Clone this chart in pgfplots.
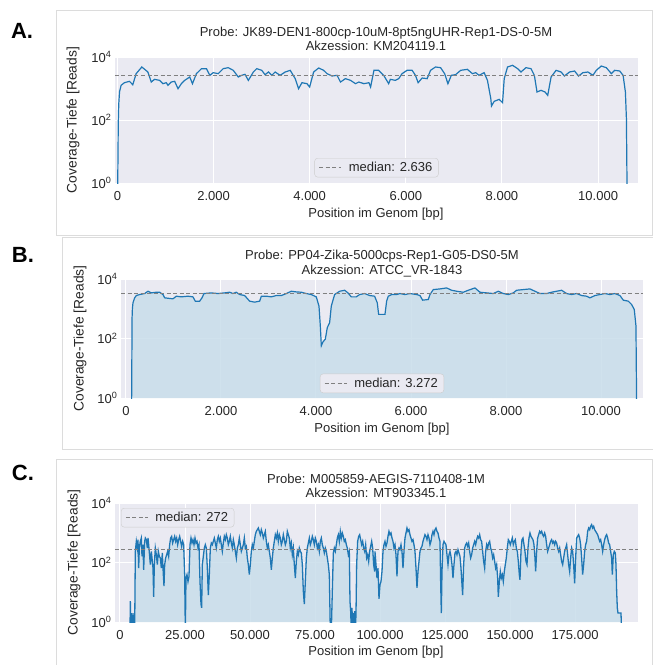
\documentclass[border=0pt]{standalone}
\usepackage{pgfplots}
\pgfplotsset{compat=1.18}
\usepackage{pgfplotstable}
\usepackage{fontspec}
\setmainfont{Liberation Sans}
\definecolor{sbbg}{HTML}{EAEAF2}
\definecolor{cz}{HTML}{1F77B4}
\definecolor{fillc}{HTML}{C8DEEA}
\definecolor{txt}{HTML}{262626}
\definecolor{frm}{HTML}{DCDCDC}
\definecolor{legedge}{HTML}{CCCCCC}
\newcommand\fs{\fontsize{13}{14.5}\selectfont}

\pgfplotstableread[row sep=\\]{
x y\\
118 0.5\\ 124 30\\ 128 500\\ 135 1000\\ 147 1585\\ 182 2327\\ 217 2782\\ 288 3005\\ 393 3245\\ 463 3882\\
533 3415\\ 638 3594\\ 709 3594\\ 779 3005\\ 814 2327\\ 989 2154\\ 1060 2644\\ 1165 2512\\ 1305 2644\\ 1410 2512\\
1459 1801\\ 1551 1801\\ 1600 2327\\ 1642 3245\\ 1796 3415\\ 1937 3245\\ 2077 3415\\ 2182 3594\\ 2252 3245\\ 2322 3594\\
2393 3005\\ 2498 2782\\ 2603 1801\\ 2709 1668\\ 2814 1801\\ 2849 2644\\ 2954 2644\\ 3059 2512\\ 3164 2782\\ 3270 2782\\
3375 3245\\ 3480 3882\\ 3585 3687\\ 3691 3594\\ 3796 3245\\ 3901 3005\\ 4006 2512\\ 4063 1228\\ 4091 264\\ 4112 57\\
4147 77\\ 4196 95\\ 4238 233\\ 4287 341\\ 4322 1228\\ 4392 3005\\ 4498 3882\\ 4603 4191\\ 4673 3415\\ 4743 2512\\
4848 2512\\ 4919 3005\\ 5024 3245\\ 5129 2782\\ 5234 2644\\ 5290 1585\\ 5319 647\\ 5410 647\\ 5452 647\\ 5487 1801\\
5522 2644\\ 5592 3005\\ 5698 3005\\ 5768 3245\\ 5873 3005\\ 5978 3245\\ 6119 3005\\ 6189 2782\\ 6245 1945\\ 6364 2047\\
6399 3005\\ 6469 4407\\ 6610 4642\\ 6750 5012\\ 6855 4191\\ 6961 3882\\ 7101 3594\\ 7206 4191\\ 7346 5012\\ 7452 3594\\
7592 3415\\ 7732 3245\\ 7838 3882\\ 7943 3245\\ 8048 3005\\ 8153 3415\\ 8224 4191\\ 8364 4407\\ 8504 4642\\ 8609 3882\\
8715 3245\\ 8855 3245\\ 8960 3594\\ 9066 3882\\ 9171 4191\\ 9276 3245\\ 9381 3005\\ 9487 3245\\ 9592 2782\\ 9697 2644\\
9767 2327\\ 9872 2782\\ 9978 3005\\ 10083 3245\\ 10188 3005\\ 10293 3245\\ 10399 2782\\ 10469 1945\\ 10574 1801\\ 10644 1394\\
10700 950\\ 10736 264\\ 10750 0.5\\
}\dataB

\pgfplotstableread[row sep=\\]{
x y\\
3846 0.5\\ 3974 5\\ 4230 0.5\\ 4615 2\\ 5000 0.5\\ 5384 2\\ 5641 0.5\\ 5897 237\\ 6282 515\\ 6666 307\\
6923 586\\ 7179 65\\ 7435 307\\ 7820 515\\ 8205 666\\ 8461 161\\ 8846 398\\ 9102 57\\ 9487 515\\ 9743 666\\
10128 586\\ 10512 307\\ 10769 666\\ 11025 398\\ 11410 161\\ 11666 85\\ 12051 237\\ 12307 142\\ 12692 65\\ 12948 7\\
13204 85\\ 13589 307\\ 13974 183\\ 14358 85\\ 14743 237\\ 15127 161\\ 15512 142\\ 15897 65\\ 16281 209\\ 16666 39\\
16922 16\\ 17179 85\\ 17563 142\\ 17948 183\\ 18332 237\\ 18717 161\\ 19102 398\\ 19486 666\\ 19871 758\\ 20255 452\\
20640 586\\ 21025 758\\ 21409 515\\ 21794 666\\ 22178 398\\ 22563 586\\ 22948 758\\ 23332 515\\ 23717 350\\ 24101 515\\
24486 398\\ 24871 39\\ 25127 0.5\\ 25383 30\\ 25768 39\\ 26153 23\\ 26537 34\\ 26922 398\\ 27306 666\\ 27691 452\\
28076 586\\ 28460 398\\ 28845 666\\ 29229 452\\ 29614 515\\ 29999 307\\ 30383 398\\ 30768 23\\ 31152 4\\ 31409 3\\
31665 85\\ 32050 161\\ 32434 307\\ 32819 398\\ 33204 307\\ 33588 65\\ 33973 8\\ 34357 39\\ 34742 307\\ 35127 452\\
35511 398\\ 35896 515\\ 36280 666\\ 36665 452\\ 37050 307\\ 37434 586\\ 37819 758\\ 38203 515\\ 38588 666\\ 38973 398\\
39357 237\\ 39742 452\\ 40126 758\\ 40511 586\\ 40896 862\\ 41280 666\\ 41665 398\\ 42049 515\\ 42434 758\\ 42819 452\\
43203 307\\ 43588 586\\ 43972 398\\ 44357 237\\ 44742 142\\ 45126 307\\ 45511 398\\ 45895 666\\ 46280 398\\ 46665 237\\
47049 307\\ 47434 398\\ 47818 666\\ 48203 307\\ 48588 350\\ 48972 142\\ 49357 85\\ 49741 39\\ 50126 85\\ 50511 237\\
50895 398\\ 51280 307\\ 51664 515\\ 52049 862\\ 52434 1116\\ 52818 1270\\ 53203 1444\\ 53587 1116\\ 53972 862\\ 54357 1270\\
54741 981\\ 55126 666\\ 55510 862\\ 55895 1116\\ 56280 515\\ 56664 307\\ 57049 398\\ 57433 237\\ 57818 142\\ 58203 57\\
58587 142\\ 58972 307\\ 59356 515\\ 59741 862\\ 60126 666\\ 60510 981\\ 60895 515\\ 61279 862\\ 61664 666\\ 62049 398\\
62433 515\\ 62818 862\\ 63202 586\\ 63587 398\\ 63972 515\\ 64356 1116\\ 64741 862\\ 65125 666\\ 65510 307\\ 65895 452\\
66279 183\\ 66664 307\\ 67048 85\\ 67433 30\\ 67818 109\\ 68202 237\\ 68587 183\\ 68971 307\\ 69356 237\\ 69741 209\\
70125 85\\ 70510 11\\ 70894 4\\ 71279 23\\ 71664 142\\ 72048 307\\ 72433 452\\ 72817 666\\ 73202 398\\ 73587 515\\
73971 758\\ 74356 586\\ 74740 398\\ 75125 666\\ 75510 515\\ 75894 307\\ 76279 398\\ 76663 237\\ 77048 515\\ 77433 666\\
77817 398\\ 78202 307\\ 78586 209\\ 78971 307\\ 79356 237\\ 79740 142\\ 80125 85\\ 80509 39\\ 80894 0.5\\ 81279 0.5\\
81663 11\\ 82048 209\\ 82432 307\\ 82817 237\\ 83202 398\\ 83586 666\\ 83971 862\\ 84355 515\\ 84740 1116\\ 85125 666\\
85509 981\\ 85894 758\\ 86278 515\\ 86663 586\\ 87048 398\\ 87432 307\\ 87817 183\\ 88201 237\\ 88458 5\\ 88714 2.3\\
88971 0.5\\ 89227 3\\ 89483 0.5\\ 89740 2\\ 89996 0.5\\ 90253 2.3\\ 90509 0.5\\ 90765 1.8\\ 91022 85\\ 91406 515\\
91791 758\\ 92176 862\\ 92560 586\\ 92945 398\\ 93329 515\\ 93714 307\\ 94099 237\\ 94483 398\\ 94868 142\\ 95252 183\\
95637 109\\ 96022 237\\ 96406 350\\ 96791 515\\ 97175 307\\ 97560 85\\ 97945 50\\
98073 237\\ 98458 85\\ 98842 30\\ 99227 65\\ 99611 6\\ 99996 18\\ 100381 23\\ 100765 50\\ 101150 237\\ 101534 398\\
101919 515\\ 102304 350\\ 102688 452\\ 103073 758\\ 103457 1116\\ 103842 862\\ 104227 981\\ 104611 666\\ 104996 515\\ 105380 307\\
105765 398\\ 106150 183\\ 106534 34\\ 106919 237\\ 107303 307\\ 107688 270\\ 108073 398\\ 108457 237\\ 108842 65\\ 109226 237\\
109611 666\\ 109996 981\\ 110380 1444\\ 110765 1116\\ 111149 1270\\ 111534 862\\ 111919 666\\ 112303 515\\ 112688 586\\ 113072 398\\
113457 237\\ 113842 65\\ 114226 14\\ 114611 50\\ 114995 109\\ 115380 237\\ 115765 307\\ 116149 350\\ 116534 515\\ 116918 666\\
117303 862\\ 117688 758\\ 118072 586\\ 118457 862\\ 118841 666\\ 119226 398\\ 119611 515\\ 119995 862\\ 120380 1116\\ 120764 862\\
121149 1270\\ 121534 1444\\ 121918 1116\\ 122303 981\\ 122687 666\\ 123072 515\\ 123328 23\\ 123585 2\\ 123841 50\\ 124226 398\\
124610 515\\ 124995 452\\ 125380 398\\ 125764 183\\ 126149 85\\ 126533 183\\ 126918 237\\ 127303 161\\ 127687 85\\ 128072 30\\
128456 85\\ 128841 209\\ 129226 237\\ 129610 183\\ 129995 270\\ 130379 209\\ 130764 161\\ 131149 65\\ 131533 18\\ 131790 8\\
132174 85\\ 132559 307\\ 132943 398\\ 133328 452\\ 133713 350\\ 134097 452\\ 134482 237\\ 134866 142\\ 135251 183\\ 135636 307\\
136020 398\\ 136405 515\\ 136789 398\\ 137174 586\\ 137559 758\\ 137943 666\\ 138328 862\\ 138712 586\\ 139097 515\\ 139482 237\\
139866 109\\ 140251 65\\ 140635 237\\ 141020 398\\ 141405 307\\ 141789 452\\ 142174 515\\ 142558 307\\ 142943 237\\ 143328 142\\
143712 183\\ 144097 109\\ 144481 65\\ 144866 85\\ 145251 30\\ 145507 7\\ 145892 23\\ 146276 50\\ 146661 30\\ 147045 39\\
147430 23\\ 147815 50\\ 148199 85\\ 148584 142\\ 148968 307\\ 149353 586\\ 149738 515\\ 150122 398\\ 150507 515\\ 150891 666\\
151276 398\\ 151661 515\\ 152045 586\\ 152430 307\\ 152814 237\\ 153199 109\\ 153584 39\\ 153840 26\\ 154225 237\\ 154609 586\\
154994 666\\ 155378 398\\ 155763 237\\ 156148 109\\ 156532 85\\ 156917 307\\ 157301 666\\ 157686 981\\ 158071 758\\ 158455 666\\
158840 586\\ 159224 398\\ 159609 142\\ 159865 50\\ 160250 237\\ 160635 666\\ 161019 862\\ 161404 1116\\ 161788 981\\ 162173 1116\\
162558 862\\ 162942 758\\ 163327 981\\ 163711 758\\ 164096 398\\ 164481 237\\ 164865 307\\ 165250 398\\ 165634 515\\ 166019 586\\
166404 452\\ 166788 515\\ 167173 398\\ 167557 515\\ 167942 452\\ 168327 307\\ 168711 237\\ 169096 307\\ 169480 183\\ 169865 109\\
170250 85\\ 170634 142\\ 171019 237\\ 171403 307\\ 171788 398\\ 172173 183\\ 172557 85\\ 172942 50\\ 173326 142\\ 173711 307\\
174096 237\\ 174480 85\\ 174865 20\\ 175249 142\\ 175634 666\\ 176019 758\\ 176403 862\\ 176788 666\\ 177172 398\\ 177557 142\\
177942 39\\ 178326 85\\ 178711 237\\ 179095 398\\ 179480 515\\ 179865 1116\\ 180249 1444\\ 180634 1270\\ 181018 1644\\ 181403 1870\\
181788 1444\\ 182172 1644\\ 182557 1270\\ 182941 1116\\ 183326 981\\ 183711 862\\ 184095 666\\ 184480 515\\ 184864 586\\ 185249 398\\
185634 237\\ 186018 398\\ 186403 586\\ 186787 758\\ 187172 862\\ 187557 666\\ 187941 452\\ 188326 398\\ 188710 237\\ 189095 142\\
189351 39\\ 189736 183\\ 190121 237\\ 190505 209\\ 190762 85\\ 191018 11\\ 191274 3\\ 191531 2\\ 191787 2\\ 192300 2\\
192685 2\\ 192941 0.5\\
}\dataC

\begin{document}
\begin{tikzpicture}
\path[use as bounding box] (0,0) rectangle (653pt,-665pt);
% screenshot frames
\draw[frm, line width=0.8pt] (56pt,-10pt) rectangle (652pt,-235pt);
\draw[frm, line width=0.8pt] (62pt,-237pt) rectangle (662pt,-449pt);
\draw[frm, line width=0.8pt] (56pt,-459pt) rectangle (652pt,-672pt);
% panel letters
\node[font=\fontsize{22}{24}\selectfont\bfseries] at (22pt,-31pt) {A.};
\node[font=\fontsize{22}{24}\selectfont\bfseries] at (23pt,-255pt) {B.};
\node[font=\fontsize{22}{24}\selectfont\bfseries] at (23pt,-473pt) {C.};

% ---------- A ----------
\begin{axis}[scale only axis, ymode=log, ymin=1, ymax=10000,
  ytick={1,100,10000}, yticklabels={10\textsuperscript{0},10\textsuperscript{2},10\textsuperscript{4}},
  axis background/.style={fill=sbbg}, axis line style={draw=none},
  grid=major, major grid style={draw=white, line width=1pt},
  major tick length=0pt, minor tick length=0pt, scaled x ticks=false,
  tick label style={font=\fs, text=txt}, xticklabel style={yshift=-5pt},
  legend style={font=\fs, text=txt, draw=legedge, fill=sbbg, rounded corners=3pt, inner xsep=4pt, inner ysep=2pt},
  legend image code/.code={\draw[#1] (0pt,0pt) -- (22pt,0pt);},
  at={(115pt,-57pt)}, anchor=north west, width=523pt, height=126pt,
  xmin=-50, xmax=10830, xtick={0,2000,4000,6000,8000,10000},
  xticklabels={0,2.000,4.000,6.000,8.000,10.000},
  legend style={at={(0.5,0.045)}, anchor=south}]
\addplot[cz, line width=1.2pt, forget plot] coordinates {
(5,0.5) (18,80) (28,320) (45,800) (77,1260) (146,1530) (251,1690) (320,1320) (390,2960) (508,4820)
(634,3340) (704,1608) (773,1955) (878,1815) (947,1423) (1017,1530) (1052,1260) (1122,1608) (1191,1690) (1261,988)
(1331,1423) (1400,1815) (1505,2317) (1561,1423) (1644,2960) (1749,4265) (1853,4265) (1923,2620) (1993,3183) (2097,2960)
(2201,4265) (2306,4585) (2410,3775) (2515,2317) (2585,2620) (2654,2818) (2724,1815) (2828,3340) (2898,4265) (3003,3775)
(3072,2750) (3142,3340) (3212,2620) (3281,3340) (3386,2620) (3490,3340) (3595,3775) (3699,2052) (3769,988) (3839,1530)
(3943,1423) (3999,1116) (4082,3340) (4187,4477) (4291,3775) (4361,2960) (4466,2494) (4570,2620) (4640,1608) (4744,2052)
(4849,1815) (4953,1423) (5023,1608) (5128,1423) (5232,1530) (5267,1116) (5337,3775) (5434,3775) (5539,2620) (5643,1423)
(5678,1955) (5782,1815) (5852,2052) (5922,2960) (6026,3775) (6131,3775) (6200,2620) (6256,1530) (6340,2154) (6444,2052)
(6514,3775) (6618,4820) (6723,4585) (6807,2960) (6876,1423) (6946,2620) (7036,2750) (7141,3775) (7280,4060) (7385,2960)
(7454,3183) (7524,2620) (7629,3183) (7698,1815) (7768,475) (7782,278) (7838,391) (7942,453) (8012,355) (8047,2052)
(8116,4820) (8221,5437) (8325,4265) (8395,3340) (8499,4585) (8604,4265) (8674,2620) (8729,774) (8813,875) (8896,774)
(8952,607) (9022,2317) (9126,3775) (9231,3340) (9300,2494) (9405,3340) (9510,3590) (9593,2494) (9684,3183) (9788,3340)
(9893,2620) (9962,3775) (10067,5180) (10171,4585) (10276,2960) (10346,3775) (10450,3590) (10520,2620) (10568,774) (10589,110)
(10603,0.5)};
\addplot[draw=gray, line width=1.1pt, dash pattern=on 4pt off 2.5pt] coordinates {(-50,2636) (10830,2636)};
\addlegendentry{\hspace{5pt}median: 2.636}
\end{axis}
\node[font=\fs, text=txt, align=center] at (376pt,-39pt) {Probe: JK89-DEN1-800cp-10uM-8pt5ngUHR-Rep1-DS-0-5M\\Akzession: KM204119.1};
\node[font=\fs, text=txt] at (376pt,-214pt) {Position im Genom [bp]};
\node[font=\fontsize{13.8}{15}\selectfont, text=txt, rotate=90] at (73pt,-120pt) {Coverage-Tiefe [Reads]};

% ---------- B ----------
\begin{axis}[scale only axis, ymode=log, ymin=1, ymax=10000,
  ytick={1,100,10000}, yticklabels={10\textsuperscript{0},10\textsuperscript{2},10\textsuperscript{4}},
  axis background/.style={fill=sbbg}, axis line style={draw=none},
  grid=major, major grid style={draw=white, line width=1pt},
  major tick length=0pt, minor tick length=0pt, scaled x ticks=false,
  tick label style={font=\fs, text=txt}, xticklabel style={yshift=-5pt},
  legend style={font=\fs, text=txt, draw=legedge, fill=sbbg, rounded corners=3pt, inner xsep=4pt, inner ysep=2pt},
  legend image code/.code={\draw[#1] (0pt,0pt) -- (22pt,0pt);},
  at={(121pt,-279pt)}, anchor=north west, width=522pt, height=119pt,
  xmin=-105, xmax=10884, xtick={0,2000,4000,6000,8000,10000},
  xticklabels={0,2.000,4.000,6.000,8.000,10.000},
  legend style={at={(0.5,0.042)}, anchor=south}]
\addplot[fill=fillc, fill opacity=0.85, draw=none, forget plot] table {\dataB} \closedcycle;
\addplot[cz, line width=1.2pt, forget plot] table {\dataB};
\addplot[draw=gray, line width=1.1pt, dash pattern=on 4pt off 2.5pt] coordinates {(-105,3272) (10884,3272)};
\addlegendentry{\hspace{5pt}median: 3.272}
\end{axis}
\node[font=\fs, text=txt, align=center] at (382pt,-263.5pt) {Probe: PP04-Zika-5000cps-Rep1-G05-DS0-5M\\Akzession: ATCC\_VR-1843};
\node[font=\fs, text=txt] at (382pt,-429pt) {Position im Genom [bp]};
\node[font=\fontsize{13.8}{15}\selectfont, text=txt, rotate=90] at (80pt,-338.5pt) {Coverage-Tiefe [Reads]};

% ---------- C ----------
\begin{axis}[scale only axis, ymode=log, ymin=1, ymax=10000,
  ytick={1,100,10000}, yticklabels={10\textsuperscript{0},10\textsuperscript{2},10\textsuperscript{4}},
  axis background/.style={fill=sbbg}, axis line style={draw=none},
  grid=major, major grid style={draw=white, line width=1pt},
  major tick length=0pt, minor tick length=0pt, scaled x ticks=false,
  tick label style={font=\fs, text=txt}, xticklabel style={yshift=-5pt},
  legend style={font=\fs, text=txt, draw=legedge, fill=sbbg, rounded corners=3pt, inner xsep=4pt, inner ysep=2pt},
  legend image code/.code={\draw[#1] (0pt,0pt) -- (22pt,0pt);},
  at={(115pt,-503pt)}, anchor=north west, width=523pt, height=119pt,
  xmin=-1923, xmax=199230, xtick={0,25000,50000,75000,100000,125000,150000,175000},
  xticklabels={0,25.000,50.000,75.000,100.000,125.000,150.000,175.000},
  legend style={at={(0.0115,0.958)}, anchor=north west}]
\addplot[fill=fillc, fill opacity=0.85, draw=none, forget plot] table {\dataC} \closedcycle;
\addplot[cz, line width=1.3pt, forget plot] table {\dataC};
\addplot[draw=gray, line width=1.1pt, dash pattern=on 4pt off 2.5pt] coordinates {(-1923,272) (199230,272)};
\addlegendentry{\hspace{5pt}median: 272}
\end{axis}
\node[font=\fs, text=txt, align=center] at (376pt,-486pt) {Probe: M005859-AEGIS-7110408-1M\\Akzession: MT903345.1};
\node[font=\fs, text=txt] at (376pt,-652pt) {Position im Genom [bp]};
\node[font=\fontsize{13.8}{15}\selectfont, text=txt, rotate=90] at (74pt,-562.5pt) {Coverage-Tiefe [Reads]};
\end{tikzpicture}
\end{document}
